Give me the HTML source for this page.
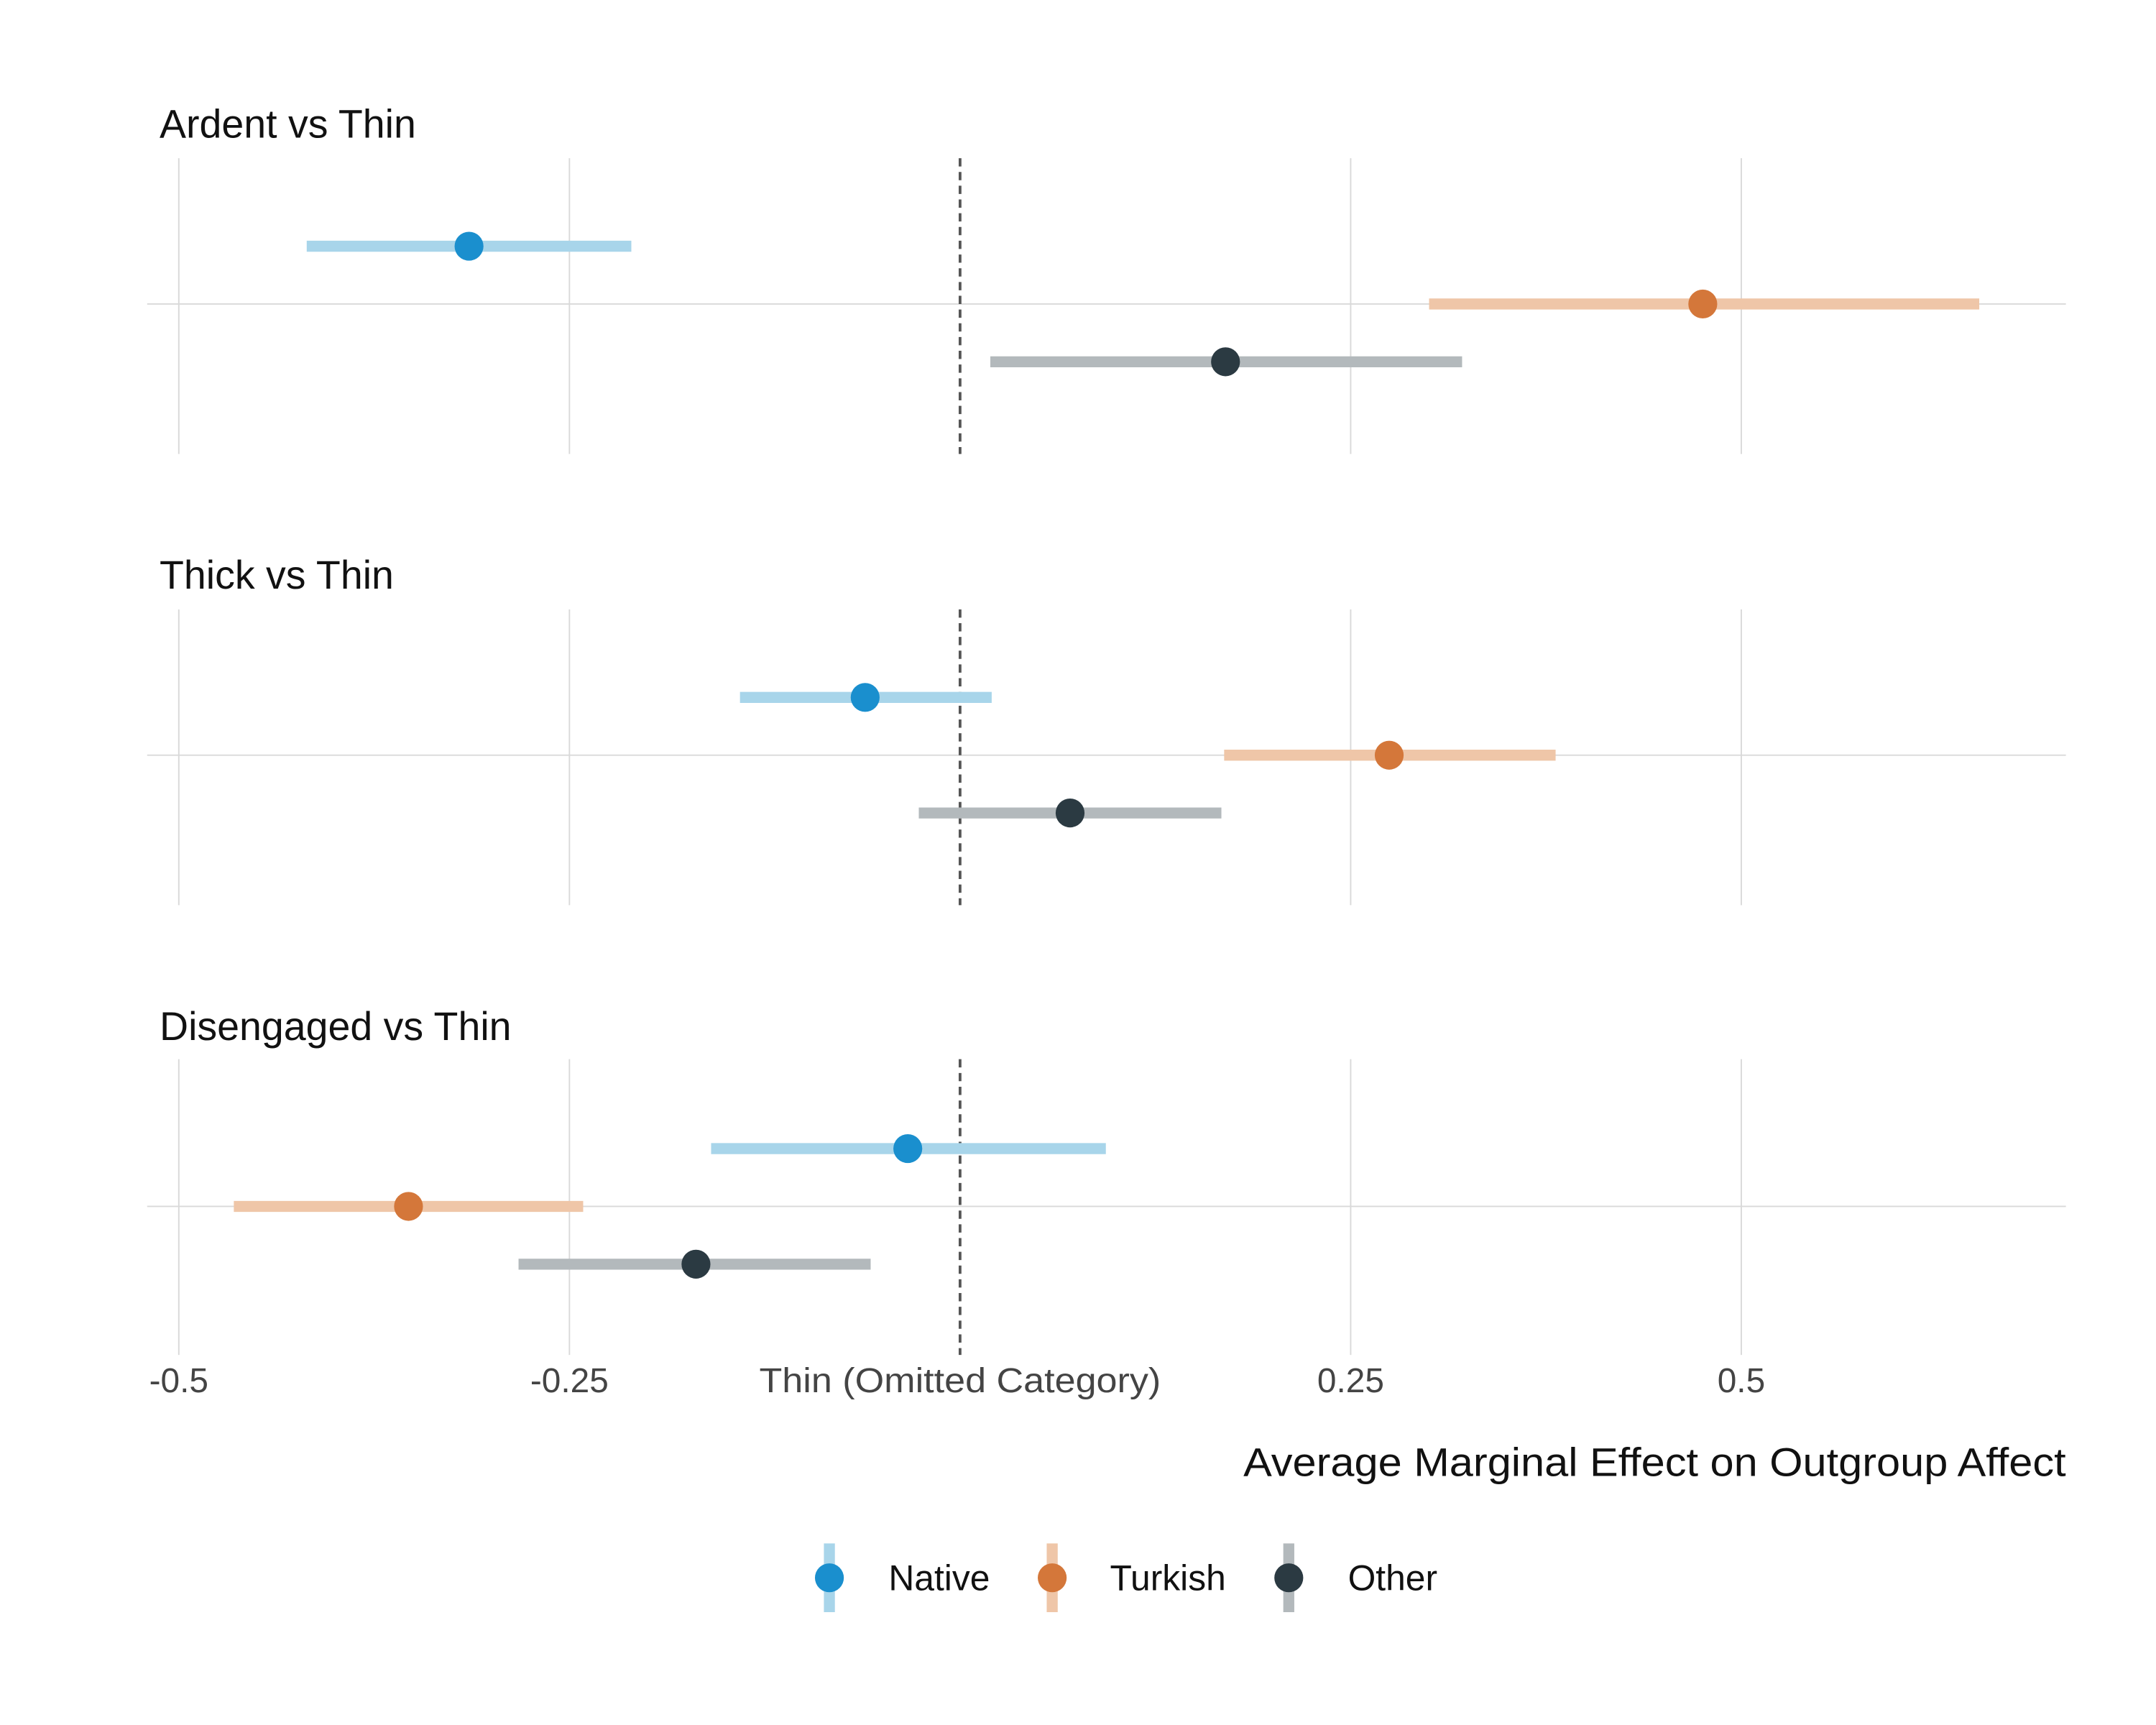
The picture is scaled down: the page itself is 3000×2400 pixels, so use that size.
<!DOCTYPE html>
<html><head><style>
html,body{margin:0;padding:0;background:#fff;}
svg{display:block;}
text{font-family:"Liberation Sans",sans-serif;}
</style></head><body>
<svg width="3000" height="2400" viewBox="0 0 1567.5 1254" preserveAspectRatio="xMinYMin meet" xmlns="http://www.w3.org/2000/svg">
<rect width="1568" height="1255" fill="#fff"/>
<g stroke="#d9d9d9" stroke-width="1">
<line x1="130" y1="115" x2="130" y2="330"/><line x1="414" y1="115" x2="414" y2="330"/><line x1="982" y1="115" x2="982" y2="330"/><line x1="1266" y1="115" x2="1266" y2="330"/><line x1="107" y1="221" x2="1502" y2="221"/>
<line x1="130" y1="443" x2="130" y2="658"/><line x1="414" y1="443" x2="414" y2="658"/><line x1="982" y1="443" x2="982" y2="658"/><line x1="1266" y1="443" x2="1266" y2="658"/><line x1="107" y1="549" x2="1502" y2="549"/>
<line x1="130" y1="770" x2="130" y2="985"/><line x1="414" y1="770" x2="414" y2="985"/><line x1="982" y1="770" x2="982" y2="985"/><line x1="1266" y1="770" x2="1266" y2="985"/><line x1="107" y1="877" x2="1502" y2="877"/>
</g>
<g stroke="#555" stroke-width="2" stroke-dasharray="6,4">
<line x1="698" y1="115" x2="698" y2="330"/><line x1="698" y1="443" x2="698" y2="658"/><line x1="698" y1="770" x2="698" y2="985"/>
</g>
<g font-size="29" fill="#111">
<text x="116" y="100">Ardent vs Thin</text>
<text x="116" y="428">Thick vs Thin</text>
<text x="116" y="756">Disengaged vs Thin</text>
</g>
<g stroke-width="8">
<line x1="223" y1="179" x2="459" y2="179" stroke="#a8d5ea"/>
<line x1="1039" y1="221" x2="1439" y2="221" stroke="#efc6a8"/>
<line x1="720" y1="263" x2="1063" y2="263" stroke="#b3b9bc"/>
<line x1="538" y1="507" x2="721" y2="507" stroke="#a8d5ea"/>
<line x1="890" y1="549" x2="1131" y2="549" stroke="#efc6a8"/>
<line x1="668" y1="591" x2="888" y2="591" stroke="#b3b9bc"/>
<line x1="517" y1="835" x2="804" y2="835" stroke="#a8d5ea"/>
<line x1="170" y1="877" x2="424" y2="877" stroke="#efc6a8"/>
<line x1="377" y1="919" x2="633" y2="919" stroke="#b3b9bc"/>
</g>
<g>
<circle cx="341" cy="179" r="10.5" fill="#1a8fce"/>
<circle cx="1238" cy="221" r="10.5" fill="#d4773a"/>
<circle cx="891" cy="263" r="10.5" fill="#2b3a42"/>
<circle cx="629" cy="507" r="10.5" fill="#1a8fce"/>
<circle cx="1010" cy="549" r="10.5" fill="#d4773a"/>
<circle cx="778" cy="591" r="10.5" fill="#2b3a42"/>
<circle cx="660" cy="835" r="10.5" fill="#1a8fce"/>
<circle cx="297" cy="877" r="10.5" fill="#d4773a"/>
<circle cx="506" cy="919" r="10.5" fill="#2b3a42"/>
</g>
<g font-size="25" fill="#444" text-anchor="middle">
<text x="130" y="1012">-0.5</text>
<text x="414" y="1012">-0.25</text>
<text x="698" y="1012" textLength="292" lengthAdjust="spacingAndGlyphs">Thin (Omitted Category)</text>
<text x="982" y="1012">0.25</text>
<text x="1266" y="1012">0.5</text>
</g>
<text x="1502" y="1073" font-size="29" fill="#111" text-anchor="end" textLength="598" lengthAdjust="spacingAndGlyphs">Average Marginal Effect on Outgroup Affect</text>
<g stroke-width="8">
<line x1="603" y1="1122" x2="603" y2="1172" stroke="#a8d5ea"/>
<line x1="765" y1="1122" x2="765" y2="1172" stroke="#efc6a8"/>
<line x1="937" y1="1122" x2="937" y2="1172" stroke="#b3b9bc"/>
</g>
<circle cx="603" cy="1147" r="10.5" fill="#1a8fce"/>
<circle cx="765" cy="1147" r="10.5" fill="#d4773a"/>
<circle cx="937" cy="1147" r="10.5" fill="#2b3a42"/>
<g font-size="26" fill="#111">
<text x="646" y="1156">Native</text>
<text x="807" y="1156">Turkish</text>
<text x="980" y="1156">Other</text>
</g>
</svg>
</body></html>
